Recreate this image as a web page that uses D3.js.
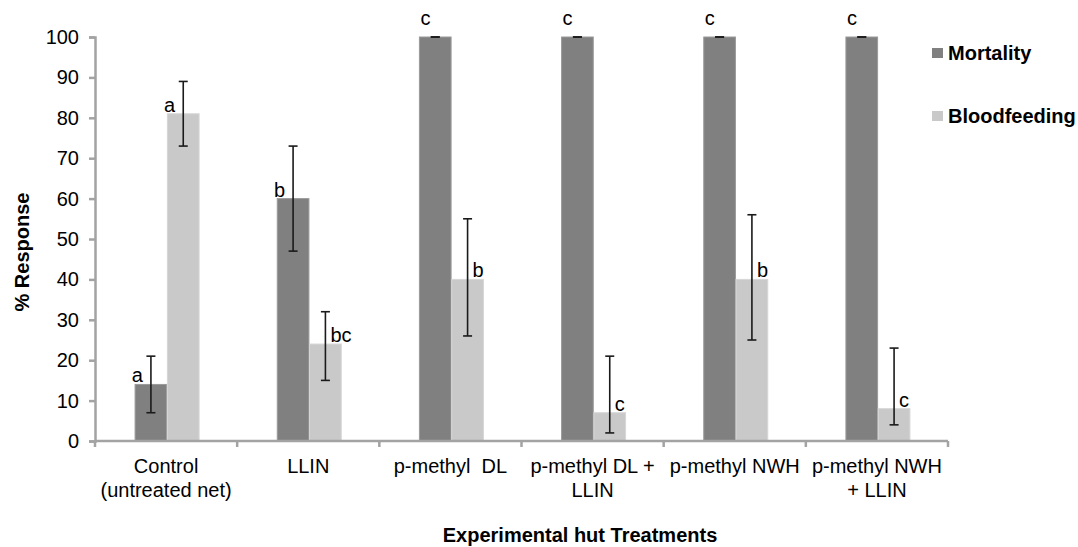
<!DOCTYPE html>
<html>
<head>
<meta charset="utf-8">
<script src="https://cdn.jsdelivr.net/npm/d3@7"></script>
<style>
  body { margin: 0; background: #fff; }
  svg text { font-family: "Liberation Sans", Arial, sans-serif; fill: #000; }
</style>
</head>
<body>
<div id="chart"></div>
<script>
var categories = ["Control\n(untreated net)", "LLIN", "p-methyl  DL", "p-methyl DL +\nLLIN", "p-methyl NWH", "p-methyl NWH\n+ LLIN"];
var seriesNames = ["Mortality", "Bloodfeeding"];
var mortality = [14, 60, 100, 100, 100, 100];
var mortalityLow = [7, 47, 100, 100, 100, 100];
var mortalityHigh = [21, 73, 100, 100, 100, 100];
var bloodfeeding = [81, 24, 40, 7, 40, 8];
var bloodLow = [73, 15, 26, 2, 25, 4];
var bloodHigh = [89, 32, 55, 21, 56, 23];
var mortalityLetters = ["a", "b", "c", "c", "c", "c"];
var bloodLetters = ["a", "bc", "b", "c", "b", "c"];
// where each letter sits next to its bar
var mortalitySide = ["left", "left", "top", "top", "top", "top"];
var bloodSide = ["left", "right", "right", "right", "right", "right"];
var yTicks = [0, 10, 20, 30, 40, 50, 60, 70, 80, 90, 100];

var W = 1078, H = 547;
var colors = { "Mortality": "#808080", "Bloodfeeding": "#c9c9c9" };
var axisColor = "#a3a3a3";
var fs = 20;

var svg = d3.select("#chart").append("svg")
    .attr("width", W).attr("height", H);

var x = d3.scaleBand().domain(categories).range([95, 948]).padding(0);
var y = d3.scaleLinear().domain([0, 100]).range([441, 37]);
var inner = d3.scaleBand().domain(seriesNames)
    .range([x.bandwidth() / 2 - 31, x.bandwidth() / 2 + 33]).paddingInner(0.02);

var data = categories.map(function(c, i) {
  return {
    cat: c,
    bars: [
      { key: "Mortality", v: mortality[i], lo: mortalityLow[i], hi: mortalityHigh[i], letter: mortalityLetters[i], side: mortalitySide[i] },
      { key: "Bloodfeeding", v: bloodfeeding[i], lo: bloodLow[i], hi: bloodHigh[i], letter: bloodLetters[i], side: bloodSide[i] }
    ]
  };
});

// y axis
var yAxis = svg.append("g").attr("transform", "translate(95,0)")
    .call(d3.axisLeft(y).tickValues(yTicks).tickSize(6).tickPadding(10));
yAxis.select(".domain").attr("stroke", axisColor).attr("stroke-width", 2.5);
yAxis.selectAll(".tick line").attr("stroke", axisColor).attr("stroke-width", 2.5);
yAxis.selectAll(".tick text").attr("font-size", fs).attr("fill", "#000")
    .style("font-family", "Liberation Sans, Arial, sans-serif");

var groups = svg.append("g").selectAll("g")
    .data(data).enter().append("g")
    .attr("transform", function(d) { return "translate(" + x(d.cat) + ",0)"; });

groups.selectAll("rect")
    .data(function(d) { return d.bars; })
    .enter().append("rect")
    .attr("x", function(b) { return inner(b.key); })
    .attr("width", inner.bandwidth())
    .attr("y", function(b) { return y(b.v); })
    .attr("height", function(b) { return y(0) - y(b.v); })
    .attr("fill", function(b) { return colors[b.key]; })
    .attr("stroke", function(b) { return b.key === "Mortality" ? "#9a9a9a" : "#d6d6d6"; })
    .attr("stroke-width", 1);

// error bars
var eb = groups.selectAll("g.err")
    .data(function(d) { return d.bars; })
    .enter().append("g").attr("class", "err")
    .attr("stroke", "#1a1a1a").attr("stroke-width", 1.6);
eb.append("line")
    .attr("x1", function(b) { return inner(b.key) + inner.bandwidth() / 2; })
    .attr("x2", function(b) { return inner(b.key) + inner.bandwidth() / 2; })
    .attr("y1", function(b) { return y(b.lo); })
    .attr("y2", function(b) { return y(b.hi); });
eb.selectAll("line.cap")
    .data(function(b) { return [[b, b.lo], [b, b.hi]]; })
    .enter().append("line").attr("class", "cap")
    .attr("x1", function(p) { return inner(p[0].key) + inner.bandwidth() / 2 - 4.5; })
    .attr("x2", function(p) { return inner(p[0].key) + inner.bandwidth() / 2 + 4.5; })
    .attr("y1", function(p) { return y(p[1]); })
    .attr("y2", function(p) { return y(p[1]); });

// significance letters
groups.selectAll("text.letter")
    .data(function(d) { return d.bars; })
    .enter().append("text").attr("class", "letter")
    .attr("font-size", fs)
    .attr("text-anchor", function(b) { return b.side === "left" ? "end" : "start"; })
    .attr("x", function(b) {
      var cx = inner(b.key) + inner.bandwidth() / 2;
      if (b.side === "left") return cx - 8;
      if (b.side === "right") return cx + 5;
      return inner(b.key) + 1;
    })
    .attr("y", function(b) { return b.side === "top" ? y(b.v) - 12 : y(b.v) - 2; })
    .text(function(b) { return b.letter; });

// x axis
var xAxis = svg.append("g").attr("transform", "translate(0,441)");
xAxis.append("line").attr("x1", 95).attr("x2", 948).attr("y1", 0).attr("y2", 0)
    .attr("stroke", axisColor).attr("stroke-width", 2.5);
xAxis.selectAll("line.tk")
    .data(categories.concat([null])).enter().append("line").attr("class", "tk")
    .attr("x1", function(c) { return c === null ? 948 : x(c); })
    .attr("x2", function(c) { return c === null ? 948 : x(c); })
    .attr("y1", 0).attr("y2", 6)
    .attr("stroke", axisColor).attr("stroke-width", 2.5);
var labels = xAxis.selectAll("text.cat")
    .data(categories).enter().append("text").attr("class", "cat")
    .attr("font-size", fs).attr("text-anchor", "middle")
    .attr("xml:space", "preserve").style("white-space", "pre")
    .attr("transform", function(c) { return "translate(" + (x(c) + x.bandwidth() / 2) + ",32)"; });
labels.selectAll("tspan")
    .data(function(c) { return c.split("\n"); })
    .enter().append("tspan")
    .attr("x", 0).attr("dy", function(t, i) { return i === 0 ? 0 : 24; })
    .text(function(t) { return t; });

// titles
svg.append("text").attr("x", 580).attr("y", 542)
    .attr("text-anchor", "middle").attr("font-size", fs).attr("font-weight", "bold")
    .text("Experimental hut Treatments");
svg.append("text")
    .attr("transform", "translate(29,252) rotate(-90)")
    .attr("text-anchor", "middle").attr("font-size", fs).attr("font-weight", "bold")
    .text("% Response");

// legend
var leg = svg.append("g").selectAll("g")
    .data(seriesNames).enter().append("g")
    .attr("transform", function(d, i) { return "translate(932," + (48 + i * 63) + ")"; });
leg.append("rect").attr("width", 11).attr("height", 10)
    .attr("fill", function(d) { return colors[d]; });
leg.append("text").attr("x", 16).attr("y", 12)
    .attr("font-size", fs).attr("font-weight", "bold")
    .text(function(d) { return d; });
</script>
</body>
</html>
